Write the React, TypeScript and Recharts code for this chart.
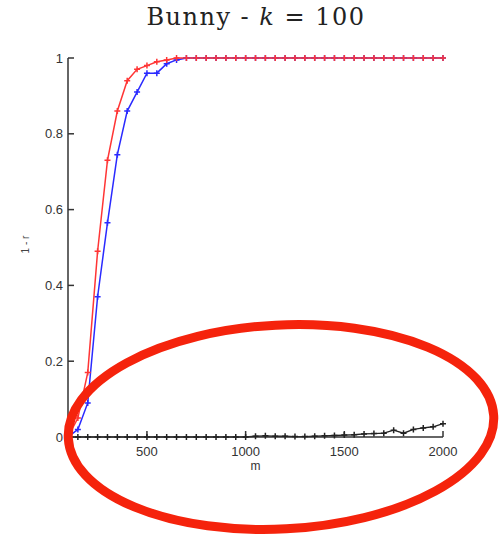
import { LineChart, Line, XAxis, YAxis } from "recharts";

const M_VALUES = [
  100, 150, 200, 250, 300, 350, 400, 450, 500, 550, 600, 650, 700, 750, 800, 850, 900, 950, 1000,
  1050, 1100, 1150, 1200, 1250, 1300, 1350, 1400, 1450, 1500, 1550, 1600, 1650, 1700, 1750, 1800,
  1850, 1900, 1950, 2000,
];

const RED_VALUES = [
  0, 0.05, 0.17, 0.49, 0.73, 0.86, 0.94, 0.97, 0.98, 0.99, 0.995, 1, 1, 1, 1, 1, 1, 1, 1,
  1, 1, 1, 1, 1, 1, 1, 1, 1, 1, 1, 1, 1, 1, 1, 1, 1, 1, 1, 1,
];

const BLUE_VALUES = [
  0, 0.02, 0.09, 0.37, 0.565, 0.745, 0.86, 0.91, 0.96, 0.96, 0.985, 0.995, 1, 1, 1, 1, 1, 1, 1,
  1, 1, 1, 1, 1, 1, 1, 1, 1, 1, 1, 1, 1, 1, 1, 1, 1, 1, 1, 1,
];

const BLACK_VALUES = [
  0, 0, 0, 0, 0, 0, 0, 0, 0, 0, 0, 0, 0, 0, 0, 0, 0, 0, 0,
  0.002, 0.003, 0.002, 0.002, 0.001, 0.001, 0.002, 0.003, 0.004, 0.005, 0.006, 0.008, 0.009, 0.01,
  0.018, 0.01, 0.02, 0.024, 0.027, 0.035,
];

const X_TICKS = [500, 1000, 1500, 2000];
const Y_TICKS = [0, 0.2, 0.4, 0.6, 0.8, 1];

const data = M_VALUES.map((m, i) => ({
  m,
  red: RED_VALUES[i],
  blue: BLUE_VALUES[i],
  black: BLACK_VALUES[i],
}));

// matlab-style "+" markers
const plus = (color: string) => (props: any) => {
  const { cx, cy, index } = props;
  if (cx == null || cy == null) return <g key={`p-${index}`} />;
  const s = 3;
  return (
    <path
      key={`p-${color}-${index}`}
      d={`M${cx - s},${cy}H${cx + s}M${cx},${cy - s}V${cy + s}`}
      stroke={color}
      strokeWidth={1.5}
      fill="none"
    />
  );
};

const tickFont = { fontFamily: "Liberation Sans, Arial, sans-serif", fontSize: 13, fill: "#333" };

export default function App() {
  return (
    <div style={{ position: "absolute", left: 0, top: 0, width: 500, height: 534, background: "#fff" }}>
      <div
        style={{
          position: "absolute",
          left: 0,
          top: 3,
          width: 512,
          textAlign: "center",
          fontFamily: "DejaVu Serif, serif",
          fontSize: 24,
          letterSpacing: 1.5,
          color: "#222",
        }}
      >
        Bunny - <i>k</i> = 100
      </div>
      <LineChart width={500} height={534} data={data} margin={{ top: 58, right: 57, bottom: 67, left: 0 }}>
        <XAxis
          dataKey="m"
          type="number"
          domain={[100, 2000]}
          ticks={X_TICKS}
          height={30}
          tickSize={-6}
          tickMargin={16}
          tick={tickFont}
          stroke="#333"
          strokeWidth={1.5}
          label={{ value: "m", position: "bottom", offset: -6, style: { ...tickFont, fontSize: 12 } }}
        />
        <YAxis
          type="number"
          domain={[0, 1]}
          ticks={Y_TICKS}
          width={68}
          tickSize={-6}
          tickMargin={11}
          tick={tickFont}
          stroke="#333"
          strokeWidth={1.5}
          label={(p: any) => {
            const vb = p.viewBox || {};
            const cy = (vb.y ?? 58) + (vb.height ?? 379) / 2 - 3;
            return (
              <text
                x={25}
                y={cy}
                transform={`rotate(-90 25 ${cy})`}
                textAnchor="middle"
                dominantBaseline="central"
                style={{ fontFamily: "Liberation Sans, Arial, sans-serif", fontSize: 10, fill: "#444" }}
              >
                1 - r
              </text>
            );
          }}
        />
        <Line dataKey="black" stroke="#222" strokeWidth={1.3} dot={plus("#222")} isAnimationActive={false} />
        <Line dataKey="blue" stroke="#2a2aff" strokeWidth={1.5} dot={plus("#2a2aff")} isAnimationActive={false} />
        <Line dataKey="red" stroke="#ff3535" strokeWidth={1.5} dot={plus("#ff3535")} isAnimationActive={false} />
      </LineChart>
      <svg width={500} height={534} style={{ position: "absolute", left: 0, top: 0, pointerEvents: "none" }}>
        <ellipse
          cx={281}
          cy={427}
          rx={213}
          ry={102}
          transform="rotate(-3 281 427)"
          fill="none"
          stroke="#f5230c"
          strokeWidth={9}
        />
      </svg>
    </div>
  );
}
